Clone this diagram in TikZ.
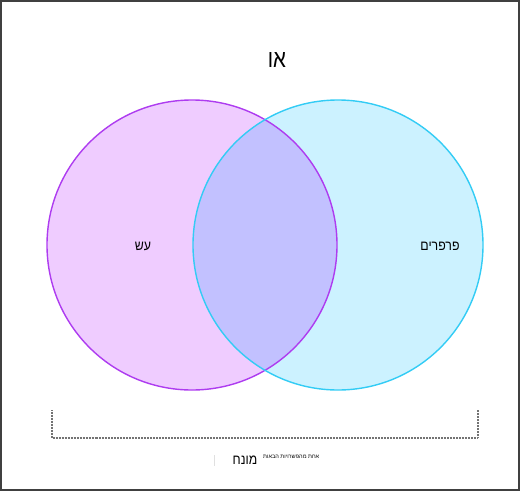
\documentclass[tikz,border=0pt]{standalone}
\usepackage{fontspec}
\setmainfont{Liberation Sans}
\newfontfamily\hebfont[Script=Hebrew]{Liberation Sans}
\TeXXeTstate=1
\begin{document}
\begin{tikzpicture}[x=1pt,y=-1pt,
  lbl/.style={font=\hebfont\fontsize{14}{16}\selectfont, inner sep=0pt, xscale=0.88},
  frameline/.style={draw=black!75, line width=2pt}]
\definecolor{afill}{HTML}{EFCCFF}
\definecolor{bfill}{HTML}{CCF2FF}
\definecolor{abfill}{HTML}{C2C1FF}
\definecolor{astroke}{HTML}{AE3CF0}
\definecolor{bstroke}{HTML}{33CCF5}
\useasboundingbox (0,0) rectangle (520,491);
\draw[frameline] (1,1) rectangle (519,490);
% circles
\coordinate (ca) at (192,245);
\coordinate (cb) at (338,245);
\fill[afill] (ca) circle (145);
\fill[bfill] (cb) circle (145);
\begin{scope}
  \clip (ca) circle (145);
  \fill[abfill] (cb) circle (145);
\end{scope}
\draw[draw=astroke, line width=1.4pt] (ca) circle (145);
\draw[draw=bstroke, line width=1.4pt] (cb) circle (145);
% texts
\node[font=\hebfont\fontsize{25}{28}\selectfont, inner sep=0pt, xscale=0.82] (title) at (277,60) {\beginR או\endR};
\node[lbl] (la) at (143,246) {\beginR עש\endR};
\node[lbl] (lb) at (440,246) {\beginR פרפרים\endR};
% bracket
\coordinate (b1) at (52,410);
\coordinate (b2) at (52,438);
\coordinate (b3) at (478,438);
\coordinate (b4) at (478,410);
\draw[black!55, line width=1.4pt, dash pattern=on 0.8pt off 0.7pt] (b1) -- (b2) -- (b3) -- (b4);
\node[lbl] (term) at (245,460) {\beginR מונח\endR};
\node[font=\hebfont\fontsize{5.6}{6}\selectfont, inner sep=0pt, anchor=west] (sub) at (263,457) {\beginR אחת מהפשרויות הבאות\endR};
\draw[black!12, line width=0.8pt] (214,455) -- (214,466);
\end{tikzpicture}
\end{document}
